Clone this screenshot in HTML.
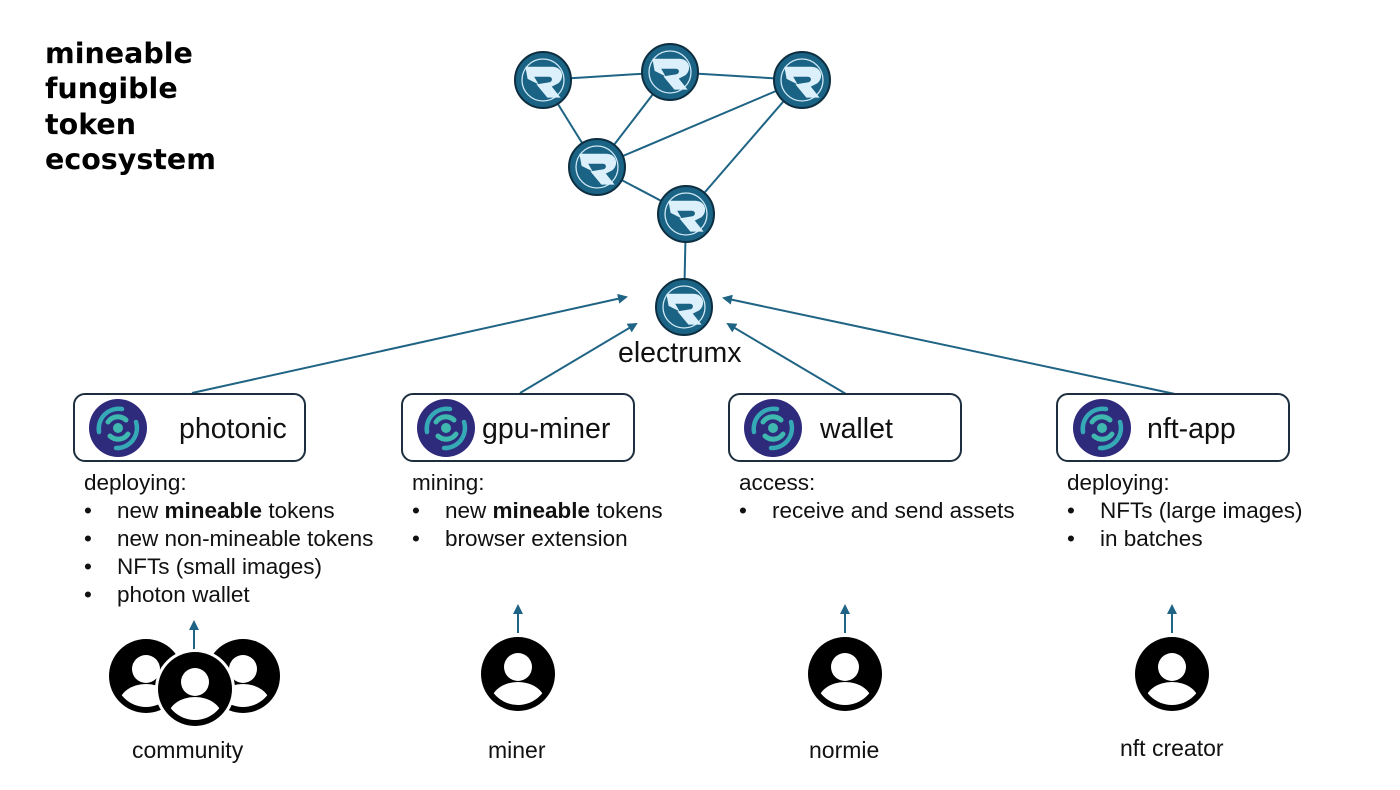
<!DOCTYPE html>
<html><head><meta charset="utf-8"><style>
html,body{margin:0;padding:0;background:#fff;}
svg{display:block;}
.t{font-family:"Liberation Sans",sans-serif;font-size:22.5px;fill:#111;}
.b{font-family:"Liberation Sans",sans-serif;font-size:23px;fill:#111;}
.lbl{font-family:"Liberation Sans",sans-serif;font-size:28.5px;fill:#111;}
.ti{font-family:"DejaVu Sans","Liberation Sans",sans-serif;font-weight:bold;font-size:28.5px;fill:#000;}
</style></head><body>
<svg width="1400" height="790" viewBox="0 0 1400 790" xmlns="http://www.w3.org/2000/svg">
<defs>
<marker id="ah" viewBox="0 0 10 10" refX="8" refY="5" markerWidth="5" markerHeight="5" orient="auto"><path d="M0,0 L10,5 L0,10 z" fill="#1f6484"/></marker>
<clipPath id="rc"><circle r="26"/></clipPath>
<g id="rnode">
<circle r="28" fill="#1a6384" stroke="#0d2e40" stroke-width="2"/>
<circle r="21" fill="none" stroke="#cfe8f5" stroke-width="1.3"/>
<g clip-path="url(#rc)"><path transform="scale(1.1)" d="M-16,-12 L8,-12 C18,-12 20,-2 14,3 L8,6 L16,16 L4,16 L-6,4 L6,2 C9,1 9,-3 5,-3 L-8,-3 L-4,4 L-14,-1 Z" fill="#dcf0fb"/></g>
</g>
<g id="plogo">
<circle r="29" fill="#2e2a7c"/>
<circle r="5" fill="#3fb8b0"/>
<path d="M-10,-6 A12,12 0 0 1 8,-8" stroke="#3fb8b0" stroke-width="5" fill="none" stroke-linecap="round"/>
<path d="M10,6 A12,12 0 0 1 -8,8" stroke="#3fb8b0" stroke-width="5" fill="none" stroke-linecap="round"/>
<path d="M-19,4 A20,20 0 0 1 4,-19" stroke="#35a9b5" stroke-width="4.5" fill="none" stroke-linecap="round"/>
<path d="M18,-6 A20,20 0 0 1 -2,20" stroke="#35a9b5" stroke-width="4.5" fill="none" stroke-linecap="round"/>
</g>
<clipPath id="pc"><circle r="31"/></clipPath>
<g id="person">
<circle r="37" fill="#000"/>
<circle cy="-7" r="14" fill="#fff"/>
<g clip-path="url(#pc)"><ellipse cy="28" rx="27" ry="20" fill="#fff"/></g>
</g>
</defs>

<text class="ti" x="45" y="63">mineable</text>
<text class="ti" x="45" y="98">fungible</text>
<text class="ti" x="45" y="134">token</text>
<text class="ti" x="45" y="169">ecosystem</text>

<g stroke="#1f6484" stroke-width="2">
<line x1="543" y1="80" x2="670" y2="72"/>
<line x1="670" y1="72" x2="802" y2="80"/>
<line x1="543" y1="80" x2="597" y2="167"/>
<line x1="670" y1="72" x2="597" y2="167"/>
<line x1="802" y1="80" x2="597" y2="167"/>
<line x1="802" y1="80" x2="686" y2="214"/>
<line x1="597" y1="167" x2="686" y2="214"/>
<line x1="686" y1="214" x2="684" y2="307"/>
</g>
<use href="#rnode" x="543" y="80"/>
<use href="#rnode" x="670" y="72"/>
<use href="#rnode" x="802" y="80"/>
<use href="#rnode" x="597" y="167"/>
<use href="#rnode" x="686" y="214"/>
<use href="#rnode" x="684" y="307"/>
<text class="lbl" x="618" y="362">electrumx</text>

<g stroke="#1f6484" stroke-width="2" marker-end="url(#ah)">
<line x1="192" y1="393" x2="626" y2="297"/>
<line x1="520" y1="393" x2="636" y2="324"/>
<line x1="846" y1="394" x2="728" y2="324"/>
<line x1="1175" y1="394" x2="724" y2="298"/>
<line x1="194" y1="650" x2="194" y2="622"/>
<line x1="518" y1="633" x2="518" y2="606"/>
<line x1="845" y1="633" x2="845" y2="606"/>
<line x1="1172" y1="633" x2="1172" y2="606"/>
</g>

<g fill="#fff" stroke="#1d2f3f" stroke-width="2">
<rect x="74" y="394" width="231" height="67" rx="11"/>
<rect x="402" y="394" width="232" height="67" rx="11"/>
<rect x="729" y="394" width="232" height="67" rx="11"/>
<rect x="1057" y="394" width="232" height="67" rx="11"/>
</g>
<use href="#plogo" x="118" y="428"/>
<use href="#plogo" x="446" y="428"/>
<use href="#plogo" x="773" y="428"/>
<use href="#plogo" x="1102" y="428"/>
<text class="lbl" x="179" y="438">photonic</text>
<text class="lbl" x="482" y="438">gpu-miner</text>
<text class="lbl" x="820" y="438">wallet</text>
<text class="lbl" x="1147" y="438">nft-app</text>

<g class="t">
<text x="84" y="490">deploying:</text>
<text x="84" y="518">•</text><text x="117" y="518">new <tspan font-weight="bold">mineable</tspan> tokens</text>
<text x="84" y="546">•</text><text x="117" y="546">new non-mineable tokens</text>
<text x="84" y="574">•</text><text x="117" y="574">NFTs (small images)</text>
<text x="84" y="602">•</text><text x="117" y="602">photon wallet</text>

<text x="412" y="490">mining:</text>
<text x="412" y="518">•</text><text x="445" y="518">new <tspan font-weight="bold">mineable</tspan> tokens</text>
<text x="412" y="546">•</text><text x="445" y="546">browser extension</text>

<text x="739" y="490">access:</text>
<text x="739" y="518">•</text><text x="772" y="518">receive and send assets</text>

<text x="1067" y="490">deploying:</text>
<text x="1067" y="518">•</text><text x="1100" y="518">NFTs (large images)</text>
<text x="1067" y="546">•</text><text x="1100" y="546">in batches</text>
</g>
<g class="b">
<text x="132" y="758">community</text>
<text x="488" y="758">miner</text>
<text x="809" y="758">normie</text>
<text x="1120" y="756">nft creator</text>
</g>

<use href="#person" x="146" y="676"/>
<use href="#person" x="243" y="676"/>
<circle cx="195" cy="689" r="40" fill="#fff"/>
<use href="#person" x="195" y="689"/>
<use href="#person" x="518" y="674"/>
<use href="#person" x="845" y="674"/>
<use href="#person" x="1172" y="674"/>
</svg>
</body></html>
